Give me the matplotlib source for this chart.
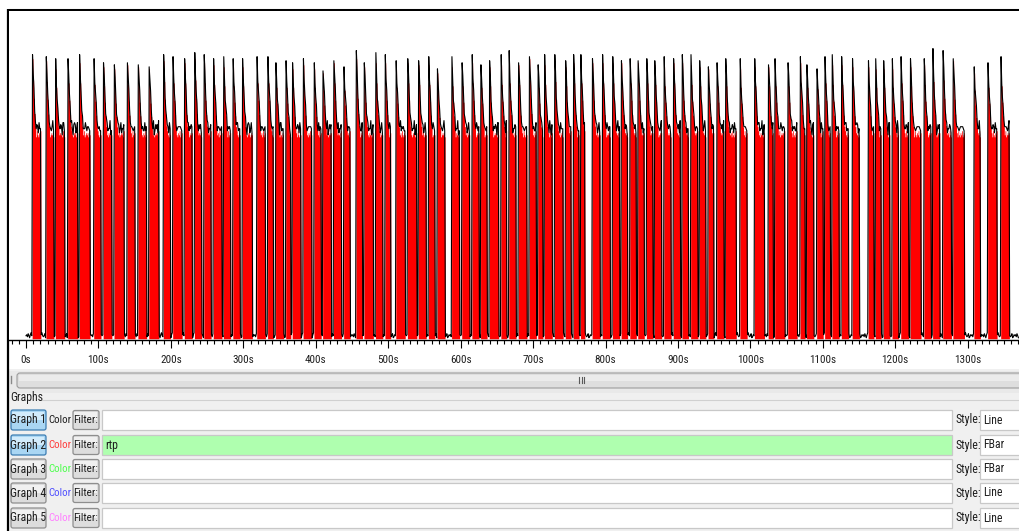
import numpy as np
import matplotlib
matplotlib.use("Agg")
import matplotlib.pyplot as plt
from matplotlib.patches import Rectangle, FancyBboxPatch
from matplotlib.ticker import MultipleLocator

# IO graph: Graph 1 = all packets (Line), Graph 2 = rtp (FBar), 1 s ticks
# start time (s) of each rtp burst
peak_t = [9.2, 27.6, 41.4, 57.6, 74.5, 93.9, 106.7, 121.5, 140.4, 154.6,
          169.8, 190.5, 203.3, 219.1, 232.9, 245.7, 258.6, 273.3, 286.2, 299.1,
          319.3, 334.5, 345.1, 358.9, 368.2, 382.8, 398.0, 410.4, 425.2, 439.0,
          455.6, 467.0, 483.2, 495.6, 510.8, 526.9, 542.5, 556.3, 567.8, 588.1,
          602.3, 615.7, 628.5, 640.5, 656.1, 667.2, 679.6, 694.8, 707.2, 716.5,
          730.3, 745.0, 755.5, 766.2, 782.3, 796.1, 809.9, 822.3, 833.8, 845.3,
          856.8, 868.3, 880.7, 893.6, 906.0, 917.6, 930.4, 942.4, 953.5, 965.9,
          985.6, 1006.3, 1024.7, 1034.0, 1052.3, 1069.4, 1078.5, 1091.5, 1103.0, 1113.1,
          1126.0, 1140.7, 1163.3, 1173.4, 1184.4, 1195.9, 1207.5, 1221.3, 1240.1, 1252.5,
          1265.5, 1280.1, 1308.7, 1327.6, 1345.5]

# burst duration (s)
burst_len = [12, 11, 13, 14, 15, 10, 12, 14, 11, 12,
             14, 10, 13, 11, 10, 10, 12, 10, 10, 14,
             12, 8, 11, 7, 12, 12, 10, 12, 11, 9,
             9, 13, 10, 8, 13, 13, 11, 9, 11, 11,
             11, 10, 9, 13, 8, 10, 12, 10, 7, 11,
             12, 8, 8, 6, 11, 11, 10, 9, 9, 9,
             9, 10, 10, 10, 9, 10, 9, 8, 10, 15,
             10, 14, 7, 14, 13, 7, 10, 9, 8, 10,
             10, 10, 8, 8, 9, 9, 11, 15, 10, 10,
             12, 16, 9, 13, 12]

# all-packets peak at the start of each burst (packets/tick)
all_peak = [141, 140, 136, 139, 139, 138, 137, 136, 138, 137, 136, 140, 139, 139, 141, 139,
            138, 137, 137, 137, 139, 139,
            136, 136, 136, 138, 136, 134, 139, 134, 141, 137, 139, 139, 136, 139, 138, 138,
            134, 137, 137, 139, 136, 137, 138, 139, 138,
            141, 136, 138, 140, 137, 139, 139, 139, 139, 139, 139, 139, 139, 139, 138, 137,
            139, 139, 138, 137, 136, 137, 137, 136, 137, 137,
            137, 137, 139, 136, 135, 139, 138, 138, 137, 137, 136, 136, 136, 139, 137, 138,
            140, 141, 140, 134, 136, 137]

rtp_plateau = 100.5
rtp_decay = [0.72, 0.48, 0.28, 0.12]
rtp_ripple = [0, 1, -1, 2, 0, -1, 1, 0, 2, -1, 0, 1]
other_pkts = [3, 4, 2, 5, 3, 1, 4, 6, 3, 2, 3, 5, 1, 2, 4]

t = np.arange(0, 1371)
rtp = np.zeros(len(t))
for p, n, pk in zip(peak_t, burst_len, all_peak):
    s = int(round(p))
    top = pk - 3
    rtp[s] = top
    for k, f in enumerate(rtp_decay, start=1):
        rtp[s + k] = rtp_plateau + (top - rtp_plateau) * f
    for k in range(len(rtp_decay) + 1, n):
        rtp[s + k] = rtp_plateau + rtp_ripple[(s + k) % len(rtp_ripple)]

other = np.array([other_pkts[i % len(other_pkts)] for i in range(len(t))], dtype=float)
other = np.where(rtp > 0, other, other * 0.5)
all_pkts = rtp + other

W, H = 1019, 531
fig = plt.figure(figsize=(W / 100, H / 100), dpi=100)
fig.patch.set_facecolor("white")

ui_font = ["Roboto Condensed", "Liberation Sans Narrow", "Liberation Sans"]
fs = 8.5

# ---- window / controls drawn in pixel coordinates ----
ui = fig.add_axes([0, 0, 1, 1], zorder=0)
ui.set_xlim(0, W)
ui.set_ylim(H, 0)
ui.axis("off")

ui.add_patch(Rectangle((9, 369), W - 9, H - 369, facecolor="#f0f0f0", edgecolor="none"))
# scrollbar
ui.add_patch(Rectangle((9, 371), W - 9, 22, facecolor="#e9e9e9", edgecolor="none"))
ui.add_patch(FancyBboxPatch((17, 373), W - 12, 15, boxstyle="round,pad=0,rounding_size=3",
                            facecolor="#dedede", edgecolor="#9c9c9c", lw=0.8))
ui.add_patch(Rectangle((19, 374.5), W - 16, 6, facecolor="#ebebeb", edgecolor="none"))
for gx in (579.5, 582, 584.5):
    ui.plot([gx, gx], [377, 383], color="#5a5a5a", lw=0.8)
ui.plot([11, 11], [376, 383], color="#8a8a8a", lw=1)

# group box "Graphs"
ui.text(10, 398, "Graphs", fontsize=fs, family=ui_font, color="#1e1e1e", va="center", ha="left")
ui.plot([42, W], [399.5, 399.5], color="#d0d0d0", lw=0.8)

rows_y = [420, 445, 469, 493, 518]
graph_names = ["Graph 1", "Graph 2", "Graph 3", "Graph 4", "Graph 5"]
color_labels = ["#1e1e1e", "#ff3b3b", "#4dff4d", "#4f4fff", "#ff80ff"]
filters = ["", "rtp", "", "", ""]
styles = ["Line", "FBar", "FBar", "Line", "Line"]
pressed = [True, True, False, False, False]

for y, name, col, flt, sty, on in zip(rows_y, graph_names, color_labels, filters, styles, pressed):
    if on:
        face, edge, hi = "#a9d6f3", "#3c7db3", "#d2ebfb"
    else:
        face, edge, hi = "#dcdcdc", "#8e8e8e", "#f1f1f1"
    ui.add_patch(FancyBboxPatch((11, y - 10), 35, 20, boxstyle="round,pad=0,rounding_size=2",
                                facecolor=face, edgecolor=edge, lw=0.9))
    ui.add_patch(Rectangle((12.5, y - 8.5), 32, 8, facecolor=hi, edgecolor="none"))
    ui.text(28.5, y, name, fontsize=fs, family=ui_font, color="#1e1e1e", ha="center", va="center")
    ui.text(48, y, "Color", fontsize=fs - 0.7, family=ui_font, color=col, ha="left", va="center")
    ui.add_patch(FancyBboxPatch((73, y - 9.5), 26, 19, boxstyle="round,pad=0,rounding_size=2",
                                facecolor="#dddddd", edgecolor="#8e8e8e", lw=0.9))
    ui.add_patch(Rectangle((74.5, y - 8), 23, 7.5, facecolor="#f0f0f0", edgecolor="none"))
    ui.text(86, y, "Filter:", fontsize=fs - 0.5, family=ui_font, color="#1e1e1e", ha="center", va="center")
    box_face = "#afffaf" if flt else "white"
    ui.add_patch(Rectangle((102, y - 10), 850, 20, facecolor=box_face, edgecolor="#c8c8c8", lw=0.9))
    if flt:
        ui.text(105, y, flt, fontsize=fs, family=ui_font, color="#1e1e1e", ha="left", va="center")
    ui.text(956, y, "Style:", fontsize=fs, family=ui_font, color="#1e1e1e", ha="left", va="center")
    ui.add_patch(Rectangle((980, y - 10), 45, 20, facecolor="white", edgecolor="#c8c8c8", lw=0.9))
    ui.text(983, y, sty, fontsize=fs, family=ui_font, color="#1e1e1e", ha="left", va="center")

# outer black frame (top and left)
ui.plot([8, W], [10, 10], color="black", lw=2.2, solid_capstyle="butt")
ui.plot([8, 8], [9, H], color="black", lw=1.6, solid_capstyle="butt")

# ---- the IO graph itself ----
px_per_s = 0.7244
x0 = 26.0
ax = fig.add_axes([9 / W, (H - 340) / H, (W - 9) / W, (340 - 11) / H], zorder=1)
ax.set_facecolor("white")
ax.fill_between(t, rtp, step="mid", color="#ff0000", linewidth=0, zorder=2)
ax.plot(t, all_pkts, color="black", lw=0.8, zorder=3)

ax.set_xlim((9 - x0) / px_per_s, (W - x0) / px_per_s)
ax.set_ylim(-0.6, 161.5)
for side in ("left", "top", "right"):
    ax.spines[side].set_visible(False)
ax.spines["bottom"].set_linewidth(1.0)
ax.set_yticks([])
ax.xaxis.set_major_locator(MultipleLocator(100))
ax.xaxis.set_minor_locator(MultipleLocator(10))
ax.tick_params(axis="x", which="major", length=6, width=0.8, pad=5, labelsize=8, labelcolor="#1e1e1e")
ax.tick_params(axis="x", which="minor", length=3, width=0.8)
ticks = np.arange(0, 1301, 100)
ax.set_xticks(ticks)
ax.set_xticklabels([f"{v}s" for v in ticks], family=ui_font)

fig.savefig("out.png", dpi=100)
